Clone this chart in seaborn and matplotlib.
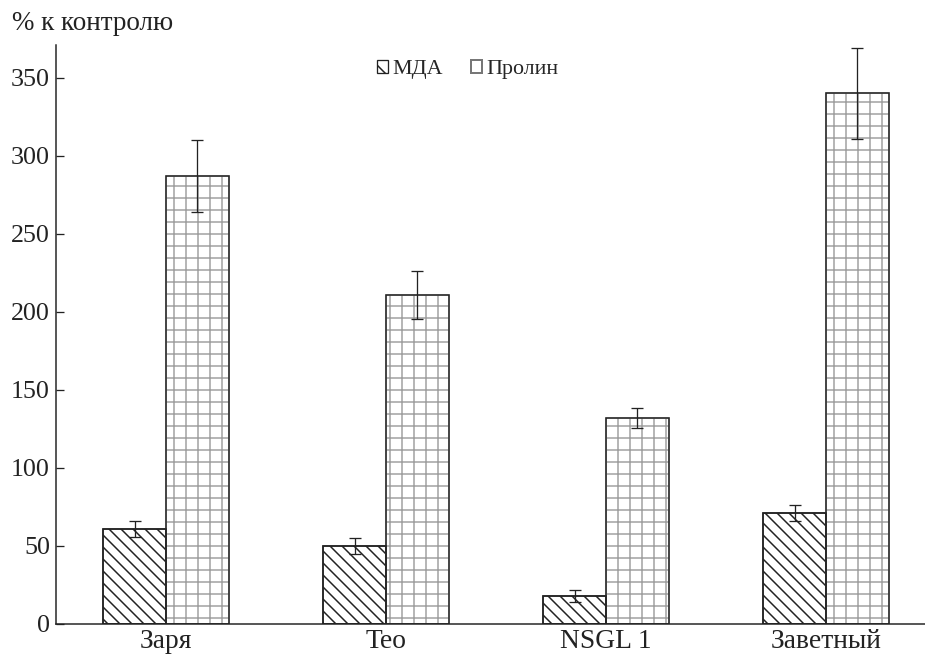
import pandas as pd
import numpy as np
import matplotlib
matplotlib.use("Agg")
import matplotlib.pyplot as plt
from matplotlib.patches import Patch
import seaborn as sns

# data
varieties = ["Заря", "Teo", "NSGL 1", "Заветный"]
mda = [61, 50, 18, 71]
mda_err = [5, 5, 4, 5]
prolin = [287, 211, 132, 340]
prolin_err = [23, 15.5, 6.5, 29]

df = pd.DataFrame({
    "variety": varieties * 2,
    "measure": ["МДА"] * 4 + ["Пролин"] * 4,
    "value": mda + prolin,
})

sns.set_theme(style="white")
plt.rcParams["font.family"] = ["Liberation Serif", "DejaVu Serif"]
plt.rcParams["hatch.linewidth"] = 1.5

# dpi 72 so the hatch spacing matches the reference
fig = plt.figure(figsize=(925 / 72, 656 / 72), dpi=72)
ax = fig.add_axes([56 / 925, 1 - 624 / 656, 1 - 56 / 925, (624 - 45) / 656])

sns.barplot(data=df, x="variety", y="value", hue="measure", order=varieties,
            palette=["white", "white"], width=0.57, errorbar=None,
            edgecolor="black", linewidth=1.5, ax=ax, legend=False)

hatches = ["\\\\", "+"]
hatch_edges = ["#222222", "#a0a0a0"]
errs = [mda_err, prolin_err]
vals = [mda, prolin]
for cont, h, hc, err, v in zip(ax.containers, hatches, hatch_edges, errs, vals):
    xs = []
    for bar in cont:
        bar.set_hatch(h)
        bar.set_edgecolor(hc)
        # black outline on top
        ax.add_patch(plt.Rectangle((bar.get_x(), bar.get_y()), bar.get_width(),
                                   bar.get_height(), fill=False,
                                   edgecolor="#222222", linewidth=1.5, zorder=3))
        xs.append(bar.get_x() + bar.get_width() / 2)
    ax.errorbar(xs, v, yerr=err, fmt="none", ecolor="#222222",
                elinewidth=1.3, capsize=6, capthick=1.3, zorder=4)

ax.set_xlim(-0.5, 3.45)
ax.set_ylim(0, 371)
ax.set_yticks([0, 50, 100, 150, 200, 250, 300, 350])
ax.set_xlabel("")
ax.set_ylabel("")
for s in ["top", "right"]:
    ax.spines[s].set_visible(False)
for s in ["left", "bottom"]:
    ax.spines[s].set_linewidth(1.5)
    ax.spines[s].set_color("#222222")

ax.set_xticks([0.5, 1.5, 2.5], minor=True)
ax.tick_params(axis="x", which="major", length=0, labelsize=27.5, pad=5,
               labelcolor="#222222")
ax.tick_params(axis="x", which="minor", direction="in", length=8, width=1.3,
               color="#222222")
ax.tick_params(axis="y", direction="in", length=8, width=1.3, labelsize=26,
               color="#222222", labelcolor="#222222", pad=6, left=True)

fig.text(12 / 925, 1 - 24 / 656, "% к контролю", fontsize=27, va="center",
         ha="left", color="#222222")

handles = [
    Patch(facecolor="white", edgecolor="#222222", hatch="\\", linewidth=1.3, label="МДА"),
    Patch(facecolor="white", edgecolor="#777777", hatch="", linewidth=2.0, label="Пролин"),
]
ax.legend(handles=handles, loc="upper center", bbox_to_anchor=(0.474, 1.008),
          ncol=2, frameon=False, fontsize=22, handlelength=0.5, handleheight=0.5,
          handletextpad=0.2, columnspacing=1.3)

fig.savefig("out.png", dpi=72)
